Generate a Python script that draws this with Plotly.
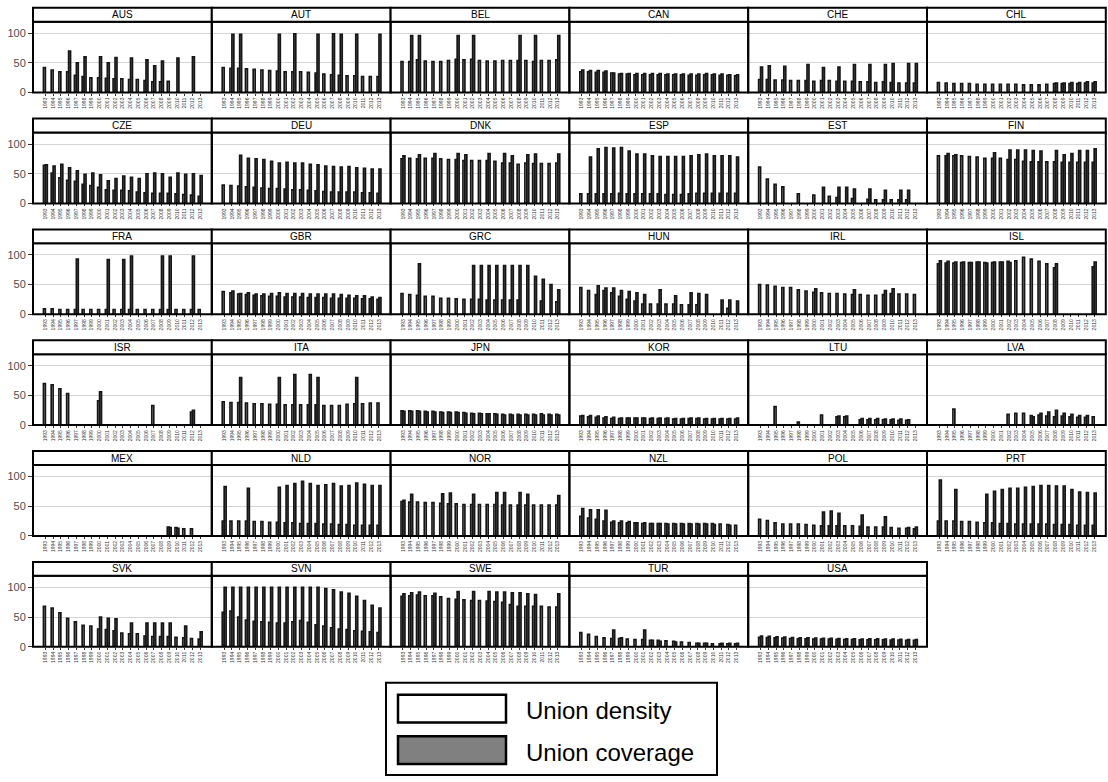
import plotly.graph_objects as go

N = None
years = [str(y) for y in range(1993, 2014)]

# Union density / union coverage (%) by country, 1993-2013
aus_density = [42, 38, 35, 35, 29, 27, 25, 25, 24, 23, 23, 22, 22, 20, 18, 18, 19, N, N, N, N]
aus_coverage = [N, N, N, 70, 50, 60, N, 60, 50, 59, N, 58, N, 55, 45, 53, N, 58, N, 60, N]
aut_density = [42, 41, 41, 40, 39, 38, 37, 36, 35, 35, 35, 34, 33, 31, 30, 29, 28, 28, 27, 27, 27]
aut_coverage = [N, 98, 98, N, N, N, N, 98, N, 99, N, N, 98, N, 99, 98, N, 98, N, N, 98]
bel_density = [52, 52, 55, 53, 52, 52, 54, 56, 55, 56, 54, 53, 53, 54, 54, 54, 54, 52, 54, 54, 55]
bel_coverage = [N, 96, 96, N, N, N, N, 96, N, 96, N, N, N, N, N, 96, N, 96, N, N, 96]
can_density = [35, 35, 34, 34, 33, 31, 31, 30, 30, 30, 30, 30, 30, 30, 29, 29, 30, 30, 29, 29, 28]
can_coverage = [38, 37, 37, 36, 33, 32, 32, 32, 32, 32, 32, 31, 31, 31, 31, 31, 32, 31, 31, 30, 30]
che_density = [22, 22, 21, 21, 20, 20, 20, 19, 20, 20, 19, 19, 19, 18, 18, 17, 18, 17, 16, 16, 16]
che_coverage = [43, 45, N, 44, N, N, 47, N, 42, N, 43, N, 47, N, 47, N, 47, 49, N, 49, 49]
chl_density = [17, 16, 15, 15, 15, 14, 14, 14, 14, 14, 14, 13, 13, 13, 14, 15, 15, 15, 15, 16, 16]
chl_coverage = [N, N, N, N, N, N, N, N, N, N, N, N, N, N, N, 16, 16, 17, 17, 18, 18]
cze_density = [64, 51, 43, 39, 37, 32, 30, 27, 23, 22, 22, 21, 19, 18, 17, 17, 17, 16, 15, 14, 12]
cze_coverage = [65, 63, 66, 60, 55, 49, 51, 48, 38, 42, 46, 44, 42, 50, 51, 50, 44, 51, 49, 50, 47]
deu_density = [31, 30, 29, 28, 27, 26, 25, 25, 24, 23, 23, 22, 21, 20, 19, 19, 19, 19, 18, 18, 17]
deu_coverage = [N, N, 81, 76, 75, 74, 71, 68, 69, 68, 68, 66, 65, 63, 62, 61, 62, 60, 59, 58, 58]
dnk_density = [75, 76, 75, 76, 76, 75, 74, 74, 72, 72, 72, 72, 71, 68, 68, 66, 68, 67, 67, 67, 68]
dnk_coverage = [80, N, 82, N, 84, N, N, 84, 82, N, N, 84, N, 84, 80, N, 82, 83, N, N, 83]
esp_density = [16, 16, 16, 16, 16, 17, 16, 16, 16, 16, 16, 15, 15, 15, 16, 17, 17, 17, 17, 17, 17]
esp_coverage = [N, 78, 92, 94, 93, 94, 88, 83, 83, 80, 79, 79, 79, 79, 80, 82, 83, 80, 80, 80, 78]
est_density = [61, 41, 32, 28, N, 16, N, 14, N, 12, 10, N, 8, N, 7, 6, 6, 6, 6, 6, N]
est_coverage = [N, N, N, N, N, N, N, N, 27, N, 27, 27, 24, N, 24, N, 22, N, 22, 22, N]
fin_density = [80, 80, 80, 80, 79, 78, 76, 76, 76, 74, 74, 71, 70, 70, 70, 70, 69, 69, 69, 69, 69]
fin_coverage = [N, 84, 82, N, N, N, N, 85, N, 90, 90, 90, 89, 88, N, 89, 82, 84, 89, 89, 92]
fra_density = [9, 9, 8, 8, 8, 8, 8, 8, 8, 8, 8, 8, 8, 8, 8, 8, 8, 8, 8, 8, 8]
fra_coverage = [N, N, N, N, 93, N, N, N, 92, N, 92, 98, N, N, N, 98, 98, N, N, 98, N]
gbr_density = [38, 36, 34, 33, 32, 31, 30, 30, 29, 29, 29, 28, 28, 28, 27, 27, 27, 27, 26, 26, 25]
gbr_coverage = [N, 39, 35, 36, 34, 34, 35, 36, 35, 35, 35, 34, 34, 34, 34, 33, 32, 31, 31, 29, 28]
grc_density = [35, 33, 32, 30, 30, 27, 27, 26, 25, 25, 25, 24, 24, 24, 24, 24, N, N, 22, N, 21]
grc_coverage = [N, N, 85, N, N, N, N, N, N, 82, 82, 82, 82, 82, 82, 82, 82, 64, 59, 50, 41]
hun_density = [45, 40, 33, 40, 36, 30, 25, 22, 17, 17, 17, 17, 17, 16, 16, 16, N, N, N, 10, N]
hun_coverage = [N, N, 48, 44, 44, 40, 38, 36, 33, N, 41, N, 31, N, 36, 35, 33, N, 24, 24, 22]
irl_density = [50, 49, 47, 45, 45, 41, 39, 37, 36, 35, 35, 34, 33, 33, 32, 32, 33, 35, 34, 34, 33]
irl_coverage = [N, N, N, N, N, N, N, 43, N, N, N, N, 41, N, N, N, 40, 43, N, N, N]
isl_density = [85, 86, 86, 87, 87, 88, 87, 87, 88, 89, 90, 96, 93, 89, 85, 78, N, N, N, N, 80]
isl_coverage = [90, 89, 88, 88, 87, 88, 86, 88, 88, 87, N, N, N, N, N, 85, N, N, N, N, 88]
isr_density = [70, 68, 61, 53, N, N, N, 41, N, N, N, N, N, N, 33, N, N, N, N, 22, N]
isr_coverage = [N, N, N, N, N, N, N, 56, N, N, N, N, N, N, N, N, N, N, N, 25, N]
ita_density = [39, 38, 38, 37, 36, 36, 35, 35, 34, 34, 34, 34, 34, 33, 33, 33, 35, 36, 36, 37, 37]
ita_coverage = [N, N, 80, N, N, N, N, 80, N, 85, N, 85, 80, N, N, N, N, 80, N, N, N]
jpn_density = [24, 24, 24, 23, 23, 22, 22, 22, 21, 20, 20, 19, 19, 18, 18, 18, 18, 18, 19, 18, 18]
jpn_coverage = [23, 23, 23, 22, 22, 21, 21, 21, 20, 19, 19, 19, 18, 17, 17, 17, 17, 17, 17, 17, 17]
kor_density = [15, 14, 13, 12, 11, 11, 12, 12, 12, 11, 11, 11, 10, 10, 11, 11, 10, 10, 10, 10, 10]
kor_coverage = [16, 16, 15, 14, 13, 12, 12, 12, 12, 12, 12, 12, 11, 11, 12, 12, 11, 11, 11, 11, 12]
ltu_density = [N, N, 31, N, N, 5, N, N, 17, N, 14, 14, N, 9, 9, 9, 9, 9, 8, 8, N]
ltu_coverage = [N, N, N, N, N, N, N, N, N, N, 15, 15, N, 11, 11, 11, 10, 10, 10, 9, N]
lva_density = [N, N, 27, N, N, N, N, N, N, 18, 20, 20, 16, 17, 15, 14, 15, 14, 13, 13, 14]
lva_coverage = [N, N, N, N, N, N, N, N, N, N, N, N, 14, 20, 22, 25, 20, 18, 16, 16, N]
mex_density = [N, N, N, N, N, N, N, N, N, N, N, N, N, N, N, N, 15, 14, 12, 12, N]
mex_coverage = [N, N, N, N, N, N, N, N, N, N, N, N, N, N, N, N, 14, 13, N, N, N]
nld_density = [25, 25, 25, 25, 24, 24, 23, 23, 22, 22, 21, 21, 21, 20, 20, 19, 19, 18, 18, 18, 18]
nld_coverage = [83, N, N, 80, N, N, N, 82, 85, 88, 92, 88, 85, 86, 88, 84, 85, 89, 87, 85, 85]
nor_density = [58, 57, 57, 56, 56, 55, 54, 54, 53, 53, 53, 53, 53, 52, 52, 52, 52, 52, 52, 52, 52]
nor_coverage = [60, 70, N, N, N, 71, 72, N, N, 70, N, N, 73, 73, N, 73, 70, N, N, N, 68]
nzl_density = [33, 30, 28, 25, 23, 22, 22, 22, 21, 21, 21, 21, 21, 21, 21, 21, 21, 21, 20, 19, 18]
nzl_coverage = [46, 44, 44, 43, 25, 25, 24, 22, 22, 21, 21, 20, 20, 20, 20, 20, 20, 19, N, 18, N]
pol_density = [28, 26, 22, 20, 20, 20, 19, 18, 17, 17, 17, 17, 17, 16, 15, 15, 15, 14, 13, 13, 12]
pol_coverage = [N, N, N, N, N, N, N, N, 40, 42, 38, N, N, 35, N, N, 32, N, N, 14, 15]
prt_density = [25, 25, 25, 24, 24, 23, 22, 22, 21, 21, 20, 20, 20, 20, 20, 19, 19, 19, 18, 18, 18]
prt_coverage = [94, N, 78, N, N, N, 70, 75, 78, 80, 80, 82, 83, 85, 85, 84, 84, 78, 74, 73, 72]
svk_density = [68, 65, 57, 48, 42, 36, 35, 30, 29, 27, 23, 22, 22, 18, 17, 17, 17, 16, 15, 14, 13]
svk_coverage = [N, N, N, N, N, N, N, 50, 48, 47, N, 40, N, 40, 40, 40, 40, N, 35, N, 25]
svn_density = [58, 60, 50, 45, 43, 42, 41, 40, 40, 42, 44, 41, 37, 35, 32, 30, 29, 27, 26, 25, 24]
svn_coverage = [100, 100, 100, 100, 100, 100, 100, 100, 100, 100, 100, 100, 100, 98, 96, 92, 90, 85, 78, 70, 65]
swe_density = [85, 86, 87, 86, 86, 84, 81, 80, 79, 78, 78, 77, 76, 75, 71, 68, 68, 68, 68, 67, 67]
swe_coverage = [89, 91, 92, N, 90, N, N, 93, N, 93, N, 93, 92, 92, 91, 91, 89, 88, N, N, 89]
tur_density = [24, 21, 17, 15, 14, 14, 13, 12, 12, 11, 11, 10, 9, 8, 7, 6, 6, 5, 5, 5, 5]
tur_coverage = [N, N, N, N, 28, 15, N, N, 28, 11, 9, N, 8, N, N, 6, 6, N, 6, 6, 6]
usa_density = [15.8, 15.5, 14.9, 14.5, 14.0, 13.6, 13.4, 12.9, 12.9, 12.8, 12.4, 12.0, 12.0, 11.5, 11.6, 11.9, 11.8, 11.4, 11.3, 10.8, 10.8]
usa_coverage = [17.9, 17.4, 16.7, 16.2, 15.6, 15.2, 15.0, 14.5, 14.3, 14.3, 13.8, 13.6, 13.4, 13.0, 13.3, 13.6, 13.1, 12.8, 12.6, 12.0, 12.0]

countries = ["AUS", "AUT", "BEL", "CAN", "CHE", "CHL", "CZE", "DEU", "DNK", "ESP", "EST", "FIN",
             "FRA", "GBR", "GRC", "HUN", "IRL", "ISL", "ISR", "ITA", "JPN", "KOR", "LTU", "LVA",
             "MEX", "NLD", "NOR", "NZL", "POL", "PRT", "SVK", "SVN", "SWE", "TUR", "USA"]
density = [globals()[c.lower() + "_density"] for c in countries]
coverage = [globals()[c.lower() + "_coverage"] for c in countries]

W, H = 1108, 782
NCOL = 6
COL_LEFT, COL_W = 33.0, 178.8
ROW_ZERO, ROW_STEP = 93.3, 111.7
PLOT_H, STRIP_H = 71.5, 14.0

fig = go.Figure()
layout = dict(
    width=W, height=H, margin=dict(l=0, r=0, t=0, b=0),
    paper_bgcolor="white", plot_bgcolor="white",
    barmode="group", bargap=0.5, bargroupgap=0.0,
    showlegend=False,
    font=dict(family="Liberation Sans, Arial, sans-serif", color="black"),
)
shapes, annotations = [], []

for i, name in enumerate(countries):
    r, c = divmod(i, NCOL)
    n = "" if i == 0 else str(i + 1)
    x0 = COL_LEFT + c * COL_W
    x1 = x0 + COL_W
    yb = ROW_ZERO + r * ROW_STEP
    yt = yb - PLOT_H
    px = lambda v: v / W
    py = lambda v: 1 - v / H

    for vals, fill, label in ((density[i], "white", "Union density"),
                              (coverage[i], "#808080", "Union coverage")):
        fig.add_trace(go.Bar(
            x=years, y=vals, name=label, xaxis="x" + n, yaxis="y" + n,
            marker=dict(color=fill, line=dict(color="#161616", width=1.7)),
            offsetgroup=label,
        ))

    layout["xaxis" + n] = dict(
        domain=[px(x0), px(x1)], anchor="y" + n, type="category",
        categoryorder="array", categoryarray=years, range=[-1.6, 21.5],
        tickangle=-90, tickfont=dict(size=5, color="#333333"),
        ticks="outside", ticklen=2, tickcolor="#333333", tickwidth=0.6,
        showgrid=False, zeroline=False, showline=False, fixedrange=True,
    )
    layout["yaxis" + n] = dict(
        domain=[py(yb), py(yt)], anchor="x" + n, range=[0, 119.5],
        tickvals=[0, 50, 100], showgrid=True, gridcolor="#d4d4d4", gridwidth=1.4,
        zeroline=False, showline=False, fixedrange=True,
        showticklabels=(c == 0), ticks="outside" if c == 0 else "",
        ticklen=4, tickcolor="#333333", tickwidth=1,
        tickfont=dict(size=11, color="#4d4d4d"),
    )

    # panel frame
    shapes.append(dict(type="rect", xref="paper", yref="paper",
                       x0=px(x0), x1=px(x1), y0=py(yb), y1=py(yt),
                       line=dict(color="black", width=2), fillcolor="rgba(0,0,0,0)",
                       layer="above"))
    # strip
    shapes.append(dict(type="rect", xref="paper", yref="paper",
                       x0=px(x0), x1=px(x1), y0=py(yt), y1=py(yt - STRIP_H),
                       line=dict(color="black", width=2), fillcolor="white"))
    annotations.append(dict(text=name, xref="paper", yref="paper",
                            x=px((x0 + x1) / 2), y=py(yt - STRIP_H / 2),
                            showarrow=False, font=dict(size=10, color="black"),
                            xanchor="center", yanchor="middle"))

# legend
def prect(xa, ya, xb, yb, **kw):
    return dict(type="rect", xref="paper", yref="paper",
                x0=xa / W, x1=xb / W, y0=1 - yb / H, y1=1 - ya / H, **kw)

shapes.append(prect(386, 688, 717, 781, line=dict(color="black", width=2), fillcolor="white"))
shapes.append(prect(398, 700, 506, 728, line=dict(color="black", width=2.5), fillcolor="white"))
shapes.append(prect(398, 742, 506, 770, line=dict(color="black", width=2.5), fillcolor="#808080"))
for label, yc in (("Union density", 716), ("Union coverage", 758)):
    annotations.append(dict(text=label, xref="paper", yref="paper", x=524 / W, y=1 - yc / H,
                            xanchor="left", yanchor="middle", showarrow=False,
                            font=dict(size=24, color="black")))

layout["shapes"] = shapes
layout["annotations"] = annotations
fig.update_layout(**layout)
fig.write_html("out.html")
